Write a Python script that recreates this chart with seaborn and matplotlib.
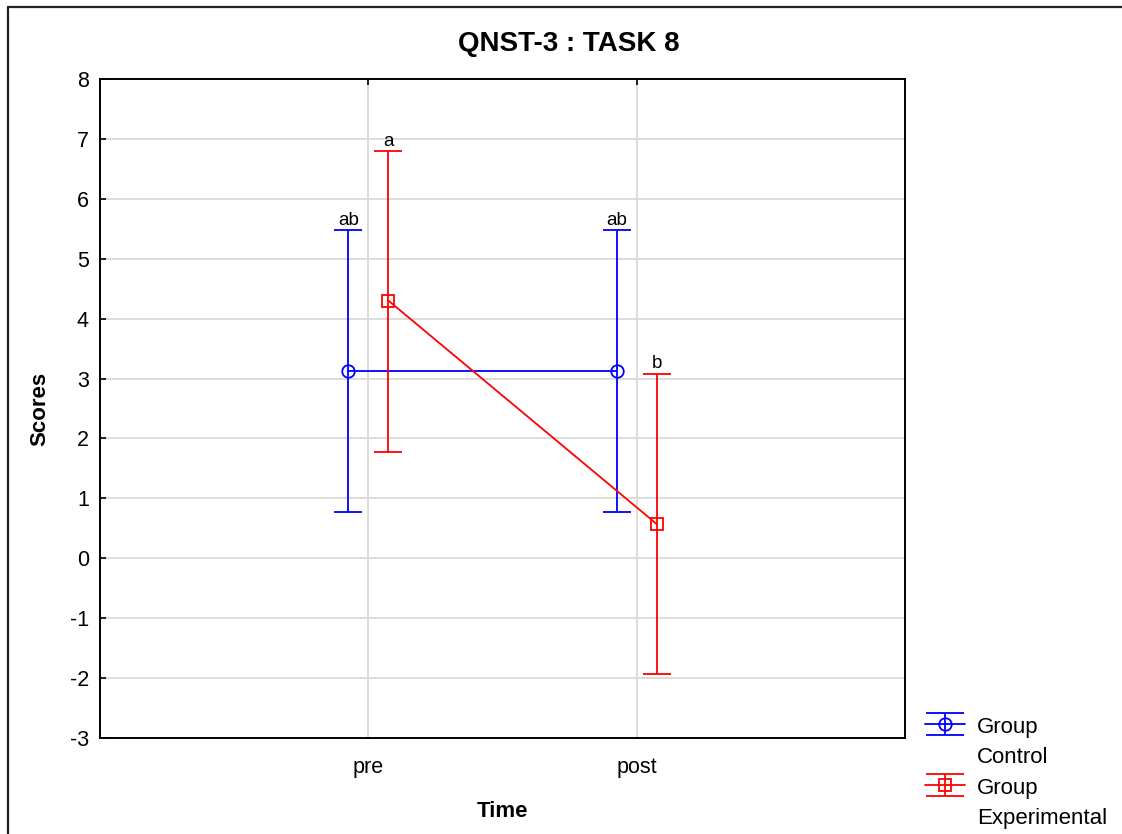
import matplotlib
matplotlib.use("Agg")
import matplotlib.pyplot as plt
from matplotlib.lines import Line2D
from matplotlib.path import Path
import seaborn as sns
import numpy as np

# data (means with confidence limits)
time_labels = ["pre", "post"]
control_mean = [3.12, 3.12]
control_low = [0.77, 0.77]
control_high = [5.48, 5.48]
exp_mean = [4.30, 0.57]
exp_low = [1.77, -1.93]
exp_high = [6.80, 3.08]
control_letters = ["ab", "ab"]
exp_letters = ["a", "b"]

sns.set_style("white")
plt.rcParams['font.family'] = ['Liberation Sans', 'DejaVu Sans']
plt.rcParams['axes.unicode_minus'] = False
plt.rcParams['text.color'] = 'black'
plt.rcParams['axes.labelcolor'] = 'black'
plt.rcParams['xtick.color'] = 'black'
plt.rcParams['ytick.color'] = 'black'

fig = plt.figure(figsize=(11.22, 8.34), dpi=100)
ax = fig.add_axes([100 / 1122, 1 - 738 / 834, 805 / 1122, 659 / 834])

pos = np.arange(len(time_labels))
offset = 0.075

# "I" shaped marker for the legend: vertical bar with two caps
cap_h = 0.59
ibar = Path([(-1, cap_h), (1, cap_h), (0, cap_h), (0, -cap_h), (-1, -cap_h), (1, -cap_h)],
            [Path.MOVETO, Path.LINETO, Path.MOVETO, Path.LINETO, Path.MOVETO, Path.LINETO])

groups = [
    ("Group", "Control", control_mean, control_low, control_high, control_letters, "#0000ff", "o", -offset),
    ("Group", "Experimental", exp_mean, exp_low, exp_high, exp_letters, "#ff0000", "s", offset),
]

handles = []
labels = []
for word1, word2, mean, low, high, letters, color, marker, dx in groups:
    xs = pos + dx
    mean = np.array(mean)
    yerr = [mean - np.array(low), np.array(high) - mean]
    msize = 9 if marker == "o" else 8
    sns.lineplot(x=xs, y=mean, color=color, marker=marker, markersize=msize,
                 markerfacecolor="none", markeredgecolor=color, markeredgewidth=1.3,
                 linewidth=1.3, ax=ax, legend=False, zorder=3)
    ax.errorbar(xs, mean, yerr=yerr, fmt="none", ecolor=color, elinewidth=1.3,
                capsize=10, capthick=1.3, zorder=3)
    for x, y, t in zip(xs, high, letters):
        ax.annotate(t, (x, y), xytext=(0, 1), textcoords="offset points",
                    ha="center", va="bottom", fontsize=13.5)
    line_h = Line2D([], [], color=color, lw=1.3, marker=marker, mfc="none", mec=color,
                    ms=msize, mew=1.3)
    bar_h = Line2D([], [], linestyle="none", marker=ibar, ms=28, mec=color, mfc="none", mew=1.3)
    handles += [(line_h, bar_h), Line2D([], [], alpha=0)]
    labels += [word1, word2]

ax.set_xlim(-1, 2)
ax.set_ylim(-3, 8)
ax.set_yticks(range(-3, 9))
ax.set_xticks(pos)
ax.set_xticklabels(time_labels)
ax.tick_params(axis="both", labelsize=15.5, direction="in", length=4, width=1.2, color="black")
ax.tick_params(axis="x", top=True, pad=14)
ax.tick_params(axis="y", left=True, pad=8)
ax.grid(True, color="#d9d9d9", linewidth=1.3, zorder=0)
ax.set_axisbelow(True)
for s in ax.spines.values():
    s.set_color("black")
    s.set_linewidth(1.4)

ax.set_xlabel("Time", fontsize=16, fontweight="bold", labelpad=16)
ax.set_ylabel("Scores", fontsize=16, fontweight="bold", labelpad=14)
fig.text(569 / 1122, 1 - 44 / 834, "QNST-3 : TASK 8", ha="center", va="center",
         fontsize=20, fontweight="bold")

leg = fig.legend(handles, labels, loc="upper left", bbox_to_anchor=(925 / 1122, 1 - 715 / 834),
                 frameon=False, fontsize=16, borderpad=0, borderaxespad=0,
                 handlelength=1.8, handleheight=1.0, handletextpad=0.55, labelspacing=0.36)

# outer frame around the figure
fig.add_artist(Line2D([8 / 1122, 8 / 1122], [0, 1 - 7 / 834], color="#222222", lw=1.6,
                      transform=fig.transFigure))
fig.add_artist(Line2D([8 / 1122, 1], [1 - 7 / 834, 1 - 7 / 834], color="#222222", lw=1.6,
                      transform=fig.transFigure))

fig.savefig("out.png", dpi=100)
